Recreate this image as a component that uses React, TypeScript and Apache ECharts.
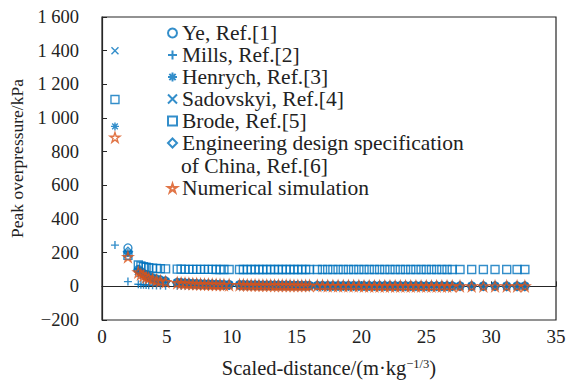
import React, { useEffect, useRef } from "react";
import * as echarts from "echarts";

// Scaled distance Z (m·kg^-1/3), shared by all series
const zValues = [
  1, 2,
  2.8, 3.0, 3.2, 3.4, 3.6, 3.9, 4.2, 4.5, 4.9,
  5.8, 6.1, 6.4, 6.7, 7.0, 7.3, 7.6, 7.9, 8.2, 8.5, 8.8, 9.1, 9.4, 9.8,
  10.6, 10.9, 11.2, 11.5, 11.8, 12.1, 12.4, 12.7, 13.0, 13.3, 13.6, 13.9, 14.2, 14.5, 14.8, 15.1, 15.4, 15.7, 16.0,
  16.6, 17.0, 17.4, 17.8, 18.2, 18.6, 19.0, 19.4, 19.8, 20.2, 20.6, 21.0, 21.4, 21.8, 22.2, 22.6, 23.0, 23.4, 23.8, 24.2, 24.6, 25.0, 25.4, 25.8, 26.2, 26.6, 27.0,
  27.6, 28.5, 29.4, 30.3, 31.2, 32.0, 32.6,
];

// Peak overpressure (kPa); null = not shown
const yeValues = [
  null, 228,
  100, 87, 76, 67, 59, 50, 43, 37, 31,
  23, 21, 19, 18, 16, 15, 14, 13, 13, 12, 11, 11, 10, 10,
  9, 9, 8, 8, 8, 7, 7, 7, 7, 6, 6, 6, 6, 6, 5, 5, 5, 5, 5,
  5, 5, 4, 4, 4, 4, 4, 4, 4, 3, 3, 3, 3, 3, 3, 3, 3, 3, 3, 3, 3, 2, 2, 2, 2, 2, 2,
  2, 2, 2, 2, 2, 2, 2,
];
const millsValues = [
  245, 28,
  12, 10, 9, 8, 7, 6, 5, 5, 4,
  4, 3, 3, 3, 3, 3, 2, 2, 2, 2, 2, 2, 2, 2,
  1, 1, 1, 1, 1, 1, 1, 1, 1, 1, 1, 1, 1, 1, 1, 1, 1, 1, 1,
  1, 1, 1, 1, 1, 0, 0, 0, 0, 0, 0, 0, 0, 0, 0, 0, 0, 0, 0, 0, 0, 0, 0, 0, 0, 0, 0,
  0, 0, 0, 0, 0, 0, 0,
];
const henrychValues = [
  950, 198,
  92, 80, 70, 62, 55, 47, 40, 35, 29,
  22, 20, 18, 17, 15, 14, 13, 12, 12, 11, 10, 10, 9, 9,
  8, 8, 8, 7, 7, 7, 6, 6, 6, 6, 5, 5, 5, 5, 5, 4, 4, 4, 4,
  4, 4, 4, 3, 3, 3, 3, 3, 3, 3, 3, 3, 2, 2, 2, 2, 2, 2, 2, 2, 2, 2, 2, 2, 2, 2, 2,
  2, 2, 1, 1, 1, 1, 1,
];
const sadovskyiValues = [
  1400, 190,
  88, 76, 66, 58, 51, 44, 38, 33, 28,
  21, 19, 17, 16, 15, 14, 13, 12, 11, 10, 10, 9, 9, 8,
  8, 7, 7, 7, 6, 6, 6, 6, 5, 5, 5, 5, 5, 4, 4, 4, 4, 4, 4,
  3, 3, 3, 3, 3, 3, 3, 3, 3, 2, 2, 2, 2, 2, 2, 2, 2, 2, 2, 2, 2, 2, 2, 2, 2, 2, 1,
  1, 1, 1, 1, 1, 1, 1,
];
const brodeValues = [
  1110, 185,
  127, 121, 116, 113, 110, 108, 106, 105, 104,
  102, 102, 101, 101, 101, 101, 101, 101, 101, 101, 100, 100, 100, 100,
  100, 100, 100, 100, 100, 100, 100, 100, 100, 100, 100, 100, 100, 100, 100, 100, 100, 100, 100,
  100, 100, 100, 100, 100, 100, 100, 100, 100, 100, 100, 100, 100, 100, 100, 100, 100, 100, 100, 100, 100, 100, 100, 100, 100, 100, 100,
  100, 100, 100, 100, 100, 100, 100,
];
const engineeringValues = [
  null, 205,
  96, 84, 73, 64, 57, 48, 41, 36, 30,
  22, 20, 19, 17, 16, 15, 14, 13, 12, 11, 11, 10, 10, 9,
  8, 8, 8, 7, 7, 7, 7, 6, 6, 6, 6, 5, 5, 5, 5, 5, 5, 4, 4,
  4, 4, 4, 4, 3, 3, 3, 3, 3, 3, 3, 3, 3, 3, 3, 2, 2, 2, 2, 2, 2, 2, 2, 2, 2, 2, 2,
  2, 2, 2, 2, 1, 1, 1,
];
const simulationValues = [
  885, 175,
  84, 72, 63, 55, 49, 42, 36, 31, 26,
  20, 19, 17, 16, 15, 14, 13, 12, 12, 11, 10, 10, 9, 9,
  8, 8, 7, 7, 7, 6, 6, 6, 6, 5, 5, 5, 5, 5, 4, 4, 4, 4, 4,
  4, 4, 3, 3, 3, 3, 3, 3, 3, 2, 2, 2, 2, 2, 2, 2, 2, 2, 2, 2, 1, 1, 1, 1, 1, 1, 1,
  1, 1, 1, 1, 1, 1, 1,
];

const seriesNames = [
  "Ye, Ref.[1]",
  "Mills, Ref.[2]",
  "Henrych, Ref.[3]",
  "Sadovskyi, Ref.[4]",
  "Brode, Ref.[5]",
  "Engineering design specification of China, Ref.[6]",
  "Numerical simulation",
];

const yTicks = { min: -200, max: 1600, interval: 200 };
const xTicks = { min: 0, max: 35, interval: 5 };

const BLUE = "#0072BD";
const ORANGE = "#D95319";
const FONT = "Liberation Serif";

const PLUS = "path://M5,0L5,10M0,5L10,5";
const CROSS = "path://M0,0L10,10M10,0L0,10";
const ASTER = "path://M5,0L5,10M0,5L10,5M1.5,1.5L8.5,8.5M8.5,1.5L1.5,8.5";
const STAR =
  "path://M50,0L61.23,34.55L97.55,34.55L68.17,55.9L79.39,90.45L50,69.1L20.61,90.45L31.83,55.9L2.45,34.55L38.77,34.55Z";

function toPoints(ys: (number | null)[]) {
  const out: number[][] = [];
  zValues.forEach((z, i) => {
    const v = ys[i];
    if (v !== null && v !== undefined) out.push([z, v]);
  });
  return out;
}

function fmtY(v: number) {
  if (v < 0) return "\u2212" + Math.abs(v);
  if (v >= 1000) {
    const th = Math.floor(v / 1000);
    const rest = String(v % 1000).padStart(3, "0");
    return th + " " + rest;
  }
  return String(v);
}

export default function App() {
  const ref = useRef<HTMLDivElement>(null);
  useEffect(() => {
    if (!ref.current) return;
    const chart = echarts.init(ref.current, undefined, { renderer: "svg" });
    const mk = (
      name: string,
      ys: (number | null)[],
      symbol: string,
      color: string,
      size: number
    ) => ({
      name,
      type: "scatter",
      data: toPoints(ys),
      symbol,
      symbolSize: size,
      itemStyle: { color: "rgba(0,0,0,0)", borderColor: color, borderWidth: 1.4 },
      emphasis: { disabled: true },
    });
    const legendText = {
      fontFamily: FONT,
      fontSize: 21.5,
      color: "#222",
      lineHeight: 22,
    };
    chart.setOption({
      animation: false,
      grid: {
        left: 102,
        right: 16,
        top: 17,
        bottom: 60,
        show: true,
        borderColor: "#262626",
        borderWidth: 1.2,
        backgroundColor: "transparent",
        outerBoundsMode: "none",
        containLabel: false,
      },
      xAxis: {
        type: "value",
        min: xTicks.min,
        max: xTicks.max,
        interval: xTicks.interval,
        name: "Scaled-distance/(m·kg{sup|\u22121/3})",
        nameLocation: "middle",
        nameGap: 37,
        nameTextStyle: {
          fontFamily: FONT,
          fontSize: 20.5,
          color: "#222",
          rich: {
            sup: { fontFamily: FONT, fontSize: 12.5, color: "#222", verticalAlign: "top", padding: [0, 0, 6, 0] },
          },
        },
        axisLine: { show: true, lineStyle: { color: "#262626", width: 1.2 } },
        axisTick: { show: true, inside: true, length: 5, lineStyle: { color: "#262626" } },
        axisLabel: { fontFamily: FONT, fontSize: 19, color: "#222", margin: 7 },
        splitLine: { show: false },
      },
      yAxis: {
        type: "value",
        min: yTicks.min,
        max: yTicks.max,
        interval: yTicks.interval,
        name: "Peak overpressure/kPa",
        nameLocation: "middle",
        nameGap: 71,
        nameTextStyle: { fontFamily: FONT, fontSize: 17.5, color: "#222", padding: [0, 0, 0, 20] },
        axisLine: { show: true, lineStyle: { color: "#262626", width: 1.2 } },
        axisTick: { show: true, inside: true, length: 5, lineStyle: { color: "#262626" } },
        axisLabel: { fontFamily: FONT, fontSize: 18.5, color: "#222", margin: 23, formatter: fmtY },
        splitLine: { show: false },
      },
      legend: [
        {
          orient: "vertical",
          left: 167,
          top: 22,
          padding: 0,
          itemGap: 0,
          itemWidth: 9,
          itemHeight: 9,
          data: seriesNames.slice(0, 6),
          formatter: (n: string) => (n === seriesNames[5] ? "Engineering design specification" : n),
          textStyle: legendText,
          selectedMode: false,
        },
        {
          orient: "vertical",
          left: 167,
          top: 177,
          padding: 0,
          itemGap: 0,
          itemWidth: 9,
          itemHeight: 9,
          data: [seriesNames[6]],
          textStyle: legendText,
          selectedMode: false,
        },
      ],
      graphic: [
        {
          type: "text",
          left: 181,
          top: 155,
          style: { text: "of China, Ref.[6]", fontFamily: FONT, fontSize: 21.5, fill: "#222" },
        },
      ],
      series: [
        mk(seriesNames[0], yeValues, "circle", BLUE, 8),
        mk(seriesNames[1], millsValues, PLUS, BLUE, 8),
        mk(seriesNames[2], henrychValues, ASTER, BLUE, 8),
        mk(seriesNames[3], sadovskyiValues, CROSS, BLUE, 7),
        mk(seriesNames[4], brodeValues, "rect", BLUE, 8),
        mk(seriesNames[5], engineeringValues, "diamond", BLUE, 9),
        mk(seriesNames[6], simulationValues, STAR, ORANGE, 10),
      ],
    });
    return () => chart.dispose();
  }, []);
  return (
    <div
      ref={ref}
      style={{ position: "absolute", left: 0, top: 0, width: 572, height: 380 }}
    />
  );
}
